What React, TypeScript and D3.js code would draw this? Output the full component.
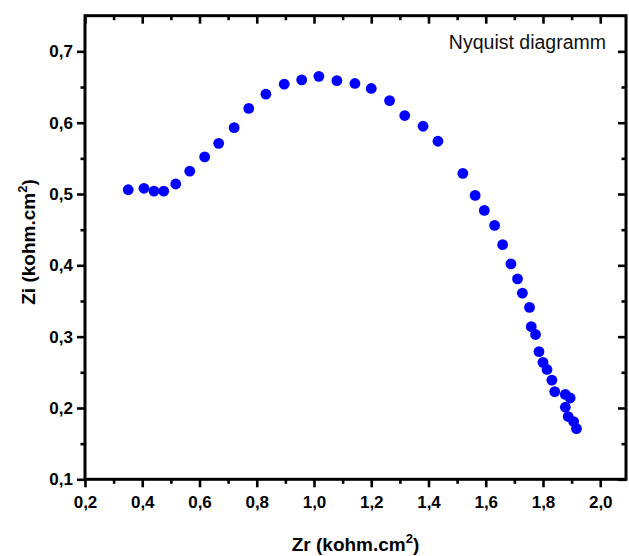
import React, { useEffect, useRef } from "react";
import * as d3 from "d3";

const zr: number[] = [
  0.351, 0.406, 0.441, 0.475, 0.517, 0.566, 0.618, 0.667, 0.721, 0.772,
  0.832, 0.896, 0.957, 1.017, 1.080, 1.143, 1.200, 1.264, 1.317, 1.381,
  1.433, 1.520, 1.563, 1.595, 1.631, 1.659, 1.688, 1.711, 1.728, 1.753,
  1.759, 1.774, 1.786, 1.800, 1.814, 1.831, 1.841, 1.878, 1.895, 1.878,
  1.888, 1.907, 1.917,
];
const zi: number[] = [
  0.506, 0.508, 0.504, 0.504, 0.514, 0.532, 0.552, 0.571, 0.593, 0.620,
  0.640, 0.654, 0.660, 0.665, 0.659, 0.655, 0.648, 0.631, 0.610, 0.595,
  0.574, 0.529, 0.498, 0.477, 0.456, 0.429, 0.402, 0.381, 0.361, 0.341,
  0.314, 0.303, 0.279, 0.264, 0.254, 0.239, 0.223, 0.219, 0.214, 0.201,
  0.188, 0.181, 0.171,
];
const xTicks: number[] = [0.2, 0.4, 0.6, 0.8, 1.0, 1.2, 1.4, 1.6, 1.8, 2.0];
const xMinor: number[] = [0.3, 0.5, 0.7, 0.9, 1.1, 1.3, 1.5, 1.7, 1.9];
const yTicks: number[] = [0.1, 0.2, 0.3, 0.4, 0.5, 0.6, 0.7];
const yMinor: number[] = [0.15, 0.25, 0.35, 0.45, 0.55, 0.65];
const xDomain: [number, number] = [0.2, 2.09];
const yDomain: [number, number] = [0.1, 0.75];
const chartTitle = "Nyquist diagramm";

const W = 629;
const H = 556;
const M = { left: 85, right: 3, top: 15.7, bottom: 76.7 };
const FONT = "'Liberation Sans', Arial, Helvetica, sans-serif";

export default function App() {
  const gRef = useRef<SVGGElement>(null);

  const x = d3.scaleLinear().domain(xDomain).range([M.left, W - M.right]);
  const y = d3.scaleLinear().domain(yDomain).range([H - M.bottom, M.top]);

  useEffect(() => {
    const g = d3.select(gRef.current);
    g.selectAll("*").remove();
    const loc = d3.formatLocale({
      decimal: ",",
      thousands: ".",
      grouping: [3],
      currency: ["", ""],
    });
    const fmt = loc.format(".1f");
    const y0 = H - M.bottom;
    const x0 = M.left;
    const x1 = W - M.right;
    const yTop = M.top;

    const style = (sel: any) => {
      sel.select(".domain").remove();
      sel.selectAll("line").attr("stroke", "#000").attr("stroke-width", 2.6);
      sel
        .selectAll("text")
        .attr("fill", "#000")
        .style("font-family", FONT)
        .style("font-size", "17px")
        .style("font-weight", "bold");
    };

    // bottom axis
    g.append("g")
      .attr("transform", `translate(0,${y0})`)
      .call(d3.axisBottom(x).tickValues(xTicks).tickSize(8).tickPadding(8.6).tickFormat((d: any) => fmt(d)))
      .call(style);
    g.append("g")
      .attr("transform", `translate(0,${y0})`)
      .call(d3.axisBottom(x).tickValues(xMinor).tickSize(4.5).tickFormat(() => ""))
      .call(style);
    // top axis (inward)
    g.append("g")
      .attr("transform", `translate(0,${yTop})`)
      .call(d3.axisTop(x).tickValues(xTicks).tickSize(-8).tickFormat(() => ""))
      .call(style);
    g.append("g")
      .attr("transform", `translate(0,${yTop})`)
      .call(d3.axisTop(x).tickValues(xMinor).tickSize(-4.5).tickFormat(() => ""))
      .call(style);
    // left axis
    g.append("g")
      .attr("transform", `translate(${x0},0)`)
      .call(d3.axisLeft(y).tickValues(yTicks).tickSize(8).tickPadding(4).tickFormat((d: any) => fmt(d)))
      .call(style);
    g.append("g")
      .attr("transform", `translate(${x0},0)`)
      .call(d3.axisLeft(y).tickValues(yMinor).tickSize(4.5).tickFormat(() => ""))
      .call(style);
    // right axis (inward)
    g.append("g")
      .attr("transform", `translate(${x1},0)`)
      .call(d3.axisRight(y).tickValues(yTicks).tickSize(-8).tickFormat(() => ""))
      .call(style);
    g.append("g")
      .attr("transform", `translate(${x1},0)`)
      .call(d3.axisRight(y).tickValues(yMinor).tickSize(-4.5).tickFormat(() => ""))
      .call(style);

    // frame
    g.append("rect")
      .attr("x", x0)
      .attr("y", yTop)
      .attr("width", x1 - x0)
      .attr("height", y0 - yTop)
      .attr("fill", "none")
      .attr("stroke", "#000")
      .attr("stroke-width", 3);
  }, []);

  return (
    <svg
      width={W}
      height={H}
      style={{ position: "absolute", left: 0, top: 0, background: "#fff" }}
      xmlns="http://www.w3.org/2000/svg"
    >
      <rect x={0} y={0} width={W} height={H} fill="#fff" />
      <g>
        {zr.map((v, i) => (
          <circle key={i} cx={x(v)} cy={y(zi[i])} r={5.4} fill="#0000ff" />
        ))}
      </g>
      <g ref={gRef} />
      <text
        x={606}
        y={49}
        textAnchor="end"
        style={{ fontFamily: FONT, fontSize: "19.5px" }}
        fill="#111"
      >
        {chartTitle}
      </text>
      <text
        x={(M.left + W - M.right) / 2}
        y={550.7}
        textAnchor="middle"
        style={{ fontFamily: FONT, fontSize: "19px", fontWeight: "bold" }}
        fill="#000"
      >
        Zr (kohm.cm
        <tspan dy={-8} style={{ fontSize: "13px" }}>2</tspan>
        <tspan dy={8}>)</tspan>
      </text>
      <text
        transform={`translate(35,242) rotate(-90)`}
        textAnchor="middle"
        style={{ fontFamily: FONT, fontSize: "19px", fontWeight: "bold" }}
        fill="#000"
      >
        Zi (kohm.cm
        <tspan dy={-8} style={{ fontSize: "13px" }}>2</tspan>
        <tspan dy={8}>)</tspan>
      </text>
    </svg>
  );
}
